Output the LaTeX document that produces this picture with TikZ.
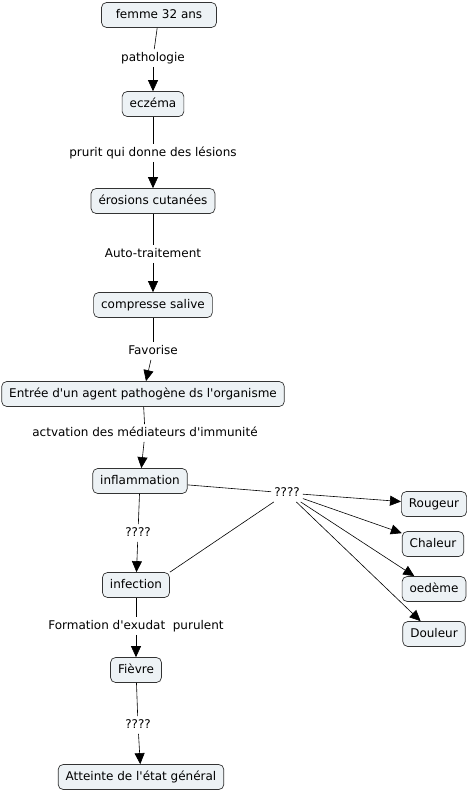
\documentclass[tikz,border=0pt]{standalone}
\usepackage{fontspec}
\setmainfont{DejaVu Sans}
\usetikzlibrary{arrows.meta}
\definecolor{boxfill}{HTML}{EDF2F5}
\definecolor{boxline}{HTML}{333333}
\newcommand{\apo}{\textquotesingle}
\begin{document}
\begin{tikzpicture}[x=1pt,y=-1pt,
  concept/.style={draw=boxline,fill=boxfill,rounded corners=5pt,line width=0.7pt,
    font=\fontsize{12}{14}\selectfont,inner xsep=7.5pt,minimum height=25pt,text height=9pt,text depth=2.5pt},
  linkph/.style={font=\fontsize{12}{14}\selectfont,inner sep=3pt,text height=9pt,text depth=2.5pt},
  conn/.style={line width=0.6pt,black},
  arr/.style={conn,-{Triangle[length=11pt,width=10pt]}}]
\useasboundingbox (0,0) rectangle (469,795);
% concepts
\node[concept,minimum width=115pt] (femme) at (159,15) {femme 32 ans};
\node[concept] (eczema) at (153,104) {eczéma};
\node[concept] (erosions) at (153,201) {érosions cutanées};
\node[concept] (compresse) at (153,305) {compresse salive};
\node[concept] (entree) at (143,394) {Entrée d\apo un agent pathogène ds l\apo organisme};
\node[concept] (inflam) at (140,481) {inflammation};
\node[concept] (infection) at (136,585) {infection};
\node[concept] (fievre) at (136,670) {Fièvre};
\node[concept] (atteinte) at (141,777) {Atteinte de l\apo état général};
\node[concept] (rougeur) at (434,504) {Rougeur};
\node[concept] (chaleur) at (433,544) {Chaleur};
\node[concept] (oedeme) at (434,589) {oedème};
\node[concept] (douleur) at (434,634) {Douleur};
% linking phrases
\node[linkph] (l1) at (153,58) {pathologie};
\node[linkph] (l2) at (153,153) {prurit qui donne des lésions};
\node[linkph] (l3) at (153,254) {Auto-traitement};
\node[linkph] (l4) at (153,351) {Favorise};
\node[linkph] (l5) at (145,433) {actvation des médiateurs d\apo immunité};
\node[linkph] (l6) at (287,493) {????};
\node[linkph] (l7) at (138,533) {????};
\node[linkph] (l8) at (136,626) {Formation d\apo exudat\ \ purulent};
\node[linkph] (l9) at (138,725) {????};
% connectors
\draw[conn] (femme) -- (l1); \draw[arr] (l1) -- (eczema);
\draw[conn] (eczema) -- (l2); \draw[arr] (l2) -- (erosions);
\draw[conn] (erosions) -- (l3); \draw[arr] (l3) -- (compresse);
\draw[conn] (compresse) -- (l4); \draw[arr] (l4) -- (entree);
\draw[conn] (entree) -- (l5); \draw[arr] (l5) -- (inflam);
\draw[conn] (inflam) -- (l6);
\draw[conn] (infection.north east) -- (l6);
\draw[arr] (l6) -- (rougeur);
\draw[arr] (l6) -- (chaleur);
\draw[arr] (l6) -- (oedeme);
\draw[arr] (l6) -- (douleur);
\draw[conn] (inflam) -- (l7); \draw[arr] (l7) -- (infection);
\draw[conn] (infection) -- (l8); \draw[arr] (l8) -- (fievre);
\draw[conn] (fievre) -- (l9); \draw[arr] (l9) -- (atteinte);
\end{tikzpicture}
\end{document}
